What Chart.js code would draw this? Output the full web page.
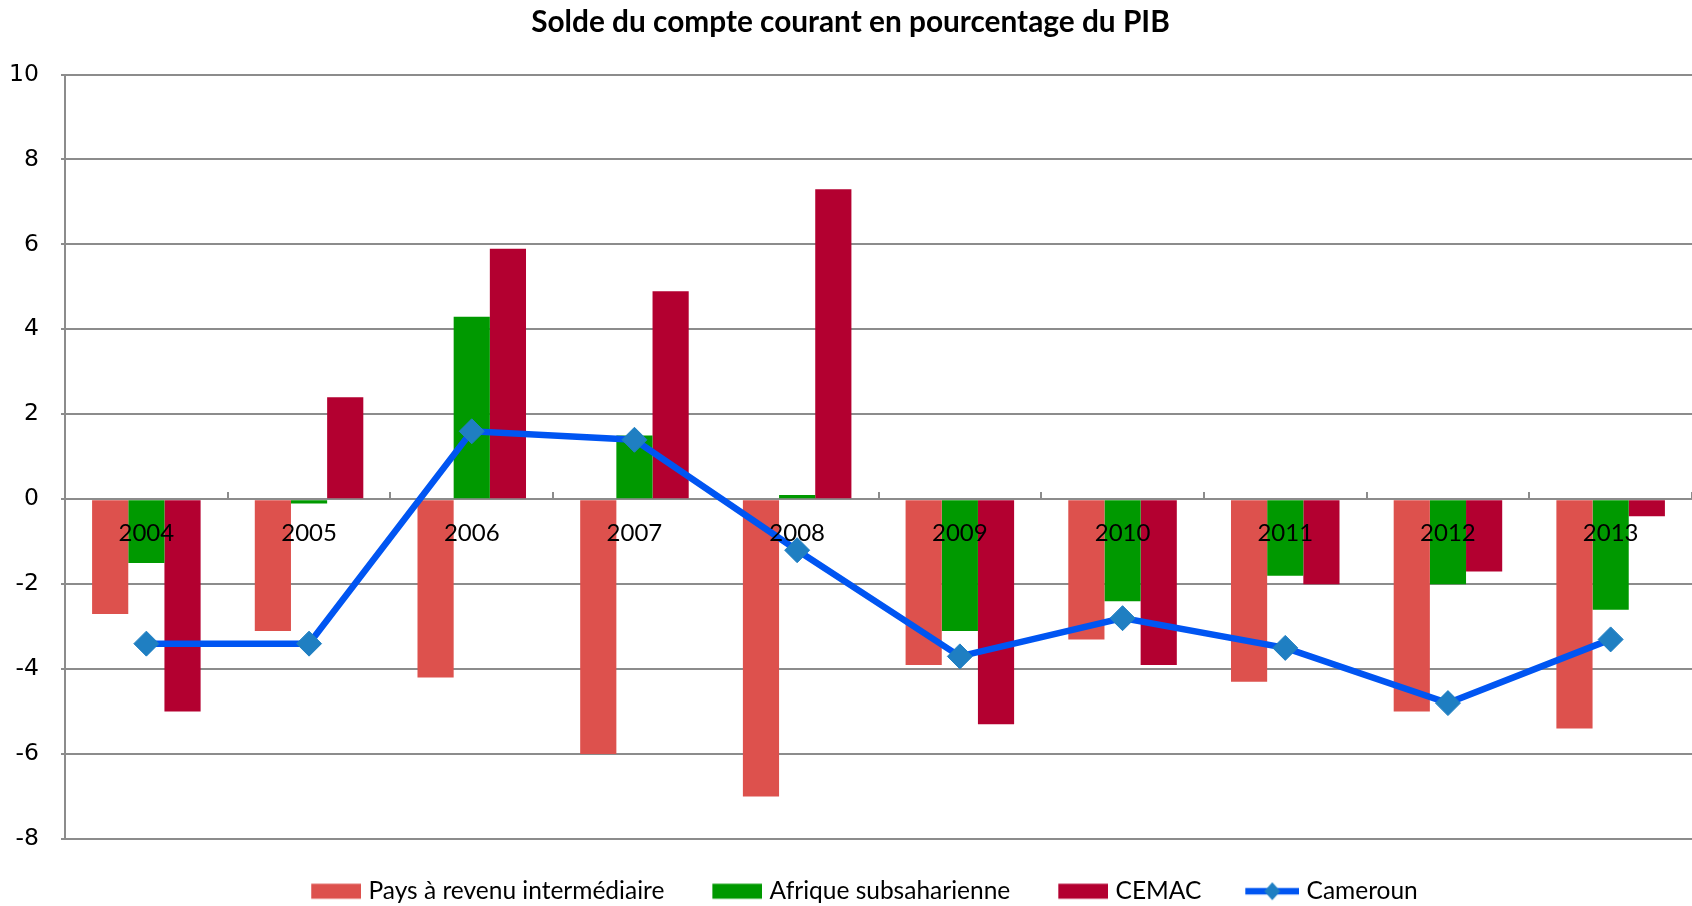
<!DOCTYPE html>
<html lang="fr">
<head>
<meta charset="utf-8">
<title>Solde du compte courant en pourcentage du PIB</title>
<script src="https://cdn.jsdelivr.net/npm/chart.js@4.4.1/dist/chart.umd.min.js"></script>
<style>
    html, body { margin: 0; padding: 0; background: #fff; overflow: hidden; }
    .chart-box { position: relative; width: 1692px; height: 906px; }
</style>
</head>
<body>
<div class="chart-box"><canvas id="soldeChart"></canvas></div>
<script>
// Données (solde en % du PIB)
const annees = ['2004', '2005', '2006', '2007', '2008', '2009', '2010', '2011', '2012', '2013'];
const paysRevenuInter = [-2.7, -3.1, -4.2, -6.0, -7.0, -3.9, -3.3, -4.3, -5.0, -5.4];
const afriqueSub = [-1.5, -0.1, 4.3, 1.5, 0.1, -3.1, -2.4, -1.8, -2.0, -2.6];
const cemac = [-5.0, 2.4, 5.9, 4.9, 7.3, -5.3, -3.9, -2.0, -1.7, -0.4];
const cameroun = [-3.4, -3.4, 1.6, 1.4, -1.2, -3.7, -2.8, -3.5, -4.8, -3.3];
const yTicks = [-8, -6, -4, -2, 0, 2, 4, 6, 8, 10];

const GRIS = '#8c8c8c';
const ROUGE = '#dd514d';
const VERT = '#009900';
const BORDEAUX = '#b30030';
const BLEU = '#0055f2';
const LOSANGE = '#1f7fc2';

/**
 * Petite image pour la légende (rectangle ou ligne avec losange),
 * le motif est calé sur le bord droit de l'image
 */
function legendIcon(color, withMarker) {
    const w = 83;
    const c = document.createElement('canvas');
    c.width = w;
    c.height = 24;
    const g = c.getContext('2d');
    if (withMarker) {
        g.strokeStyle = color;
        g.lineWidth = 6.5;
        g.beginPath();
        g.moveTo(w - 54, 12);
        g.lineTo(w, 12);
        g.stroke();
        g.fillStyle = LOSANGE;
        g.beginPath();
        g.moveTo(w - 27, 3);
        g.lineTo(w - 19, 12);
        g.lineTo(w - 27, 21);
        g.lineTo(w - 35, 12);
        g.closePath();
        g.fill();
    } else {
        g.fillStyle = color;
        g.fillRect(w - 50, 4.5, 50, 15);
    }
    return c;
}

const icones = [
    legendIcon(ROUGE, false),
    legendIcon(VERT, false),
    legendIcon(BORDEAUX, false),
    legendIcon(BLEU, true)
];

const ctx = document.getElementById('soldeChart').getContext('2d');

const soldeChart = new Chart(ctx, {
    type: 'bar',
    data: {
        labels: annees,
        datasets: [
            {
                label: 'Pays à revenu intermédiaire',
                data: paysRevenuInter,
                backgroundColor: ROUGE,
                order: 1
            },
            {
                label: 'Afrique subsaharienne',
                data: afriqueSub,
                backgroundColor: VERT,
                order: 1
            },
            {
                label: 'CEMAC',
                data: cemac,
                backgroundColor: BORDEAUX,
                order: 1
            },
            {
                type: 'line',
                label: 'Cameroun',
                data: cameroun,
                borderColor: BLEU,
                borderWidth: 6.5,
                backgroundColor: LOSANGE,
                pointStyle: 'rectRot',
                pointRadius: 12.5,
                pointBackgroundColor: LOSANGE,
                pointBorderColor: LOSANGE,
                pointBorderWidth: 1,
                tension: 0,
                fill: false,
                clip: false,
                order: 0
            }
        ]
    },
    options: {
        responsive: true,
        maintainAspectRatio: false,
        animation: false,
        categoryPercentage: 0.667,
        barPercentage: 1,
        layout: {
            autoPadding: false,
            padding: { left: 9, right: 0, top: 0, bottom: -7.5 }
        },
        scales: {
            x: {
                position: { y: 0 },
                offset: true,
                grid: {
                    offset: true,
                    drawOnChartArea: false,
                    drawTicks: true,
                    tickLength: -8,
                    color: GRIS,
                    lineWidth: 2
                },
                border: { display: true, color: GRIS, width: 2 },
                ticks: {
                    color: '#000',
                    font: { family: 'Lato', size: 24 },
                    padding: 28,
                    maxRotation: 0,
                    autoSkip: false,
                    z: 1
                },
                // les étiquettes sont dans la zone du graphique : pas de marge latérale
                afterFit: function(scale) {
                    scale.paddingLeft = 0;
                    scale.paddingRight = 0;
                }
            },
            y: {
                min: yTicks[0],
                max: yTicks[yTicks.length - 1],
                afterBuildTicks: function(scale) {
                    scale.ticks = yTicks.map(v => ({ value: v }));
                },
                // Chart.js compte le padding deux fois : axe vertical ramené à x = 65
                afterFit: function(scale) {
                    scale.width = 56;
                },
                grid: {
                    color: GRIS,
                    lineWidth: 2,
                    drawTicks: true,
                    tickLength: 4
                },
                border: { display: true, color: GRIS, width: 2 },
                ticks: {
                    color: '#000',
                    font: { family: 'DejaVu Sans', size: 23.5 },
                    padding: 22
                }
            }
        },
        plugins: {
            title: {
                display: true,
                text: 'Solde du compte courant en pourcentage du PIB',
                color: '#000',
                font: { family: 'Lato', size: 29.8, weight: 'bold' },
                padding: { top: 4.2, bottom: 34.6 }
            },
            legend: {
                position: 'bottom',
                title: {
                    display: true,
                    text: '',
                    font: { size: 10, lineHeight: 1 },
                    padding: { top: 10, bottom: 0 }
                },
                labels: {
                    usePointStyle: true,
                    pointStyleWidth: 73,
                    padding: 20,
                    color: '#000',
                    font: { family: 'Lato', size: 24.5 },
                    sort: (a, b) => a.datasetIndex - b.datasetIndex,
                    generateLabels: function(chart) {
                        const items = Chart.defaults.plugins.legend.labels.generateLabels(chart);
                        items.forEach(item => {
                            item.pointStyle = icones[item.datasetIndex];
                        });
                        return items;
                    }
                }
            },
            tooltip: { enabled: false }
        }
    }
});
</script>
</body>
</html>
